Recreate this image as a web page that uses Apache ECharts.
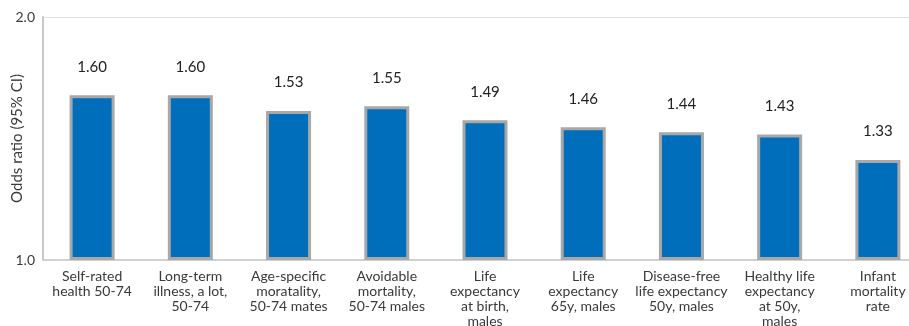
<!DOCTYPE html>
<html>
<head>
<meta charset="utf-8">
<script src="https://cdn.jsdelivr.net/npm/echarts@6/dist/echarts.min.js"></script>
<style>
  html, body { margin: 0; padding: 0; background: #fff; }
  #chart { width: 909px; height: 326px; }
</style>
</head>
<body>
<div id="chart"></div>
<script>
// Outcome indicators and their odds ratios
const categories = [
  'Self-rated\nhealth 50-74',
  'Long-term\nillness, a lot,\n50-74',
  'Age-specific\nmoratality,\n50-74 mates',
  'Avoidable\nmortality,\n50-74 males',
  'Life\nexpectancy\nat birth,\nmales',
  'Life\nexpectancy\n65y, males',
  'Disease-free\nlife expectancy\n50y, males',
  'Healthy life\nexpectancy\nat 50y,\nmales',
  'Infant\nmortality\nrate'
];
const oddsRatios = [1.60, 1.60, 1.53, 1.55, 1.49, 1.46, 1.44, 1.43, 1.33];
const yTicks = [1, 2];

const FONT = 'Lato, "Open Sans", sans-serif';

const chart = echarts.init(document.getElementById('chart'), null, { renderer: 'canvas' });
chart.setOption({
  animation: false,
  backgroundColor: '#ffffff',
  // plot area runs slightly past the right edge of the canvas
  grid: {
    left: 43, top: 17, width: 884, height: 243,
    containLabel: false,
    outerBoundsMode: 'none'
  },
  xAxis: {
    type: 'category',
    data: categories,
    axisLine: { show: true, lineStyle: { color: '#d0d0d0', width: 2 } },
    axisTick: { show: false },
    axisLabel: {
      interval: 0,
      margin: 9,
      fontFamily: FONT,
      fontSize: 14,
      lineHeight: 15,
      color: '#3a3a3a',
      align: 'center'
    }
  },
  yAxis: {
    type: 'log',
    logBase: 2,
    min: yTicks[0],
    max: yTicks[yTicks.length - 1],
    name: 'Odds ratio (95% CI)',
    nameLocation: 'middle',
    nameGap: 18,
    nameMoveOverlap: false,
    nameRotate: 90,
    nameTextStyle: { fontFamily: FONT, fontSize: 15, color: '#3a3a3a' },
    axisLine: { show: true, lineStyle: { color: '#c8c8c8', width: 2 } },
    axisTick: { show: false },
    axisLabel: {
      margin: 8,
      fontFamily: FONT,
      fontSize: 14,
      color: '#3a3a3a',
      formatter: v => Number(v).toFixed(1)
    },
    splitLine: { show: true, lineStyle: { color: '#e0e0e0', width: 1 } }
  },
  series: [{
    type: 'bar',
    data: oddsRatios,
    barWidth: 45,
    itemStyle: { color: '#006EBA', borderColor: '#A8A8A8', borderWidth: 3 },
    label: {
      show: true,
      position: 'top',
      distance: 21,
      fontFamily: FONT,
      fontSize: 15,
      color: '#222222',
      formatter: p => p.value.toFixed(2)
    }
  }]
});
</script>
</body>
</html>
